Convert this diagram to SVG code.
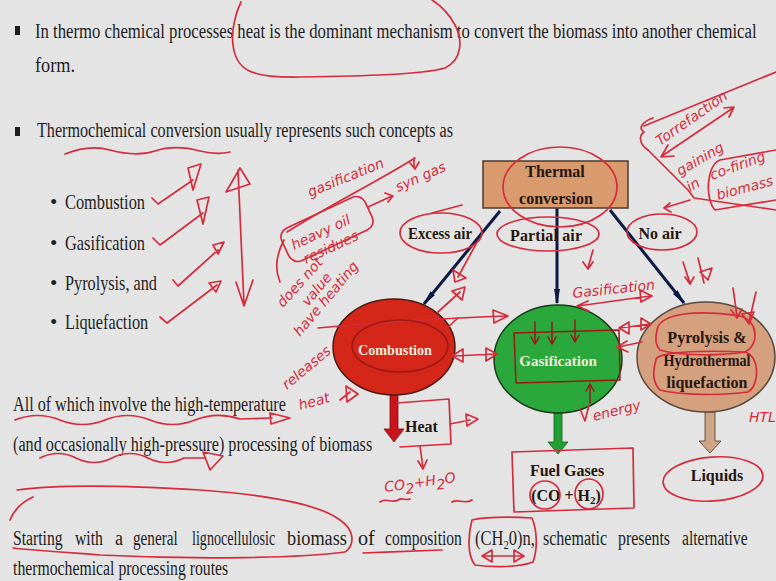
<svg xmlns="http://www.w3.org/2000/svg" width="776" height="581" viewBox="0 0 776 581">
<defs>
<style>
.t{font-family:"Liberation Serif","Times New Roman",serif;fill:#1e1e1e;font-size:20px}
.l{font-size:21px}
.b{font-family:"Liberation Serif","Times New Roman",serif;font-weight:bold;fill:#24160f;font-size:16px;text-anchor:middle}
.w{font-family:"Liberation Serif","Times New Roman",serif;font-weight:bold;fill:#f3ead8;font-size:15px;text-anchor:middle}
.ink{fill:none;stroke:#d42c3c;stroke-width:1.7;stroke-linecap:round;stroke-linejoin:round}
.dk{fill:none;stroke:#9a1a14;stroke-width:1.5;stroke-linecap:round;stroke-linejoin:round}
.hw{font-family:"DejaVu Sans",sans-serif;fill:#d42c3c;font-size:14px;font-style:oblique}
.nav{stroke:#0d1a44;stroke-width:3;fill:none}
</style>
<marker id="ah" markerUnits="userSpaceOnUse" markerWidth="16" markerHeight="8" refX="14" refY="4" orient="auto">
<path d="M0,1 L16,4 L0,7 z" fill="#0d1a44"/>
</marker>
</defs>
<rect width="776" height="581" fill="#e4e4e4"/>

<g id="body-text">
<rect x="15" y="26" width="5" height="9" fill="#1e1e1e"/>
<text class="t" transform="translate(35,38) scale(0.8,1)" textLength="902" lengthAdjust="spacingAndGlyphs">In thermo chemical processes heat is the dominant mechanism to convert the biomass into another chemical</text>
<text class="t" transform="translate(35,72) scale(0.8,1)" textLength="50" lengthAdjust="spacingAndGlyphs">form.</text>
<rect x="15" y="127" width="5" height="9" fill="#1e1e1e"/>
<text class="t" transform="translate(37,137) scale(0.8,1)" textLength="520" lengthAdjust="spacingAndGlyphs">Thermochemical conversion usually represents such concepts as</text>
<text class="t l" x="50" y="209">•</text>
<text class="t l" transform="translate(65,209) scale(0.8,1)" textLength="100" lengthAdjust="spacingAndGlyphs">Combustion</text>
<text class="t l" x="50" y="250">•</text>
<text class="t l" transform="translate(65,250) scale(0.8,1)" textLength="100" lengthAdjust="spacingAndGlyphs">Gasification</text>
<text class="t l" x="50" y="290">•</text>
<text class="t l" transform="translate(65,290) scale(0.8,1)" textLength="115" lengthAdjust="spacingAndGlyphs">Pyrolysis, and</text>
<text class="t l" x="50" y="329">•</text>
<text class="t l" transform="translate(65,329) scale(0.8,1)" textLength="104" lengthAdjust="spacingAndGlyphs">Liquefaction</text>
<text class="t" transform="translate(13,411) scale(0.8,1)" textLength="341" lengthAdjust="spacingAndGlyphs">All of which involve the high-temperature</text>
<text class="t" transform="translate(13,451) scale(0.8,1)" textLength="449" lengthAdjust="spacingAndGlyphs">(and occasionally high-pressure) processing of biomass</text>
<text class="t" transform="translate(13,545) scale(0.8,1)" textLength="62" lengthAdjust="spacingAndGlyphs">Starting</text>
<text class="t" transform="translate(75,545) scale(0.8,1)" textLength="35" lengthAdjust="spacingAndGlyphs">with</text>
<text class="t" transform="translate(115,545) scale(0.8,1)" textLength="10" lengthAdjust="spacingAndGlyphs">a</text>
<text class="t" transform="translate(133,545) scale(0.8,1)" textLength="56" lengthAdjust="spacingAndGlyphs">general</text>
<text class="t" transform="translate(192,545) scale(0.8,1)" textLength="104" lengthAdjust="spacingAndGlyphs">lignocellulosic</text>
<text class="t" transform="translate(287,545) scale(0.8,1)" textLength="75" lengthAdjust="spacingAndGlyphs">biomass</text>
<text class="t" transform="translate(358,545) scale(0.8,1)" textLength="21" lengthAdjust="spacingAndGlyphs">of</text>
<text class="t" transform="translate(385,545) scale(0.8,1)" textLength="96" lengthAdjust="spacingAndGlyphs">composition</text>
<text class="t" transform="translate(475,545) scale(0.8,1)" textLength="75" lengthAdjust="spacingAndGlyphs">(CH<tspan font-size="13" dy="4">2</tspan><tspan dy="-4">0)n,</tspan></text>
<text class="t" transform="translate(543,545) scale(0.8,1)" textLength="80" lengthAdjust="spacingAndGlyphs">schematic</text>
<text class="t" transform="translate(618,545) scale(0.8,1)" textLength="65" lengthAdjust="spacingAndGlyphs">presents</text>
<text class="t" transform="translate(682,545) scale(0.8,1)" textLength="82" lengthAdjust="spacingAndGlyphs">alternative</text>
<text class="t" transform="translate(13,575) scale(0.8,1)" textLength="269" lengthAdjust="spacingAndGlyphs">thermochemical processing routes</text>
</g>

<g id="connectors">
<line x1="500" y1="211" x2="424" y2="304" class="nav" marker-end="url(#ah)"/>
<line x1="557" y1="208" x2="557" y2="303" class="nav" marker-end="url(#ah)"/>
<line x1="610" y1="210" x2="684" y2="303" class="nav" marker-end="url(#ah)"/>
<path d="M390,394 L398,394 L398,429 L404,429 L394,442 L384,429 L390,429 Z" fill="#c8141a" stroke="#7a1010" stroke-width="0.8"/>
<path d="M554,413 L562,413 L562,442 L568,442 L558,454 L548,442 L554,442 Z" fill="#23a034" stroke="#145a1a" stroke-width="0.8"/>
<path d="M705,412 L715,412 L715,441 L721,441 L710,453 L699,441 L705,441 Z" fill="#cba585" stroke="#6a5040" stroke-width="1"/>
</g>

<g id="thermal-conversion">
<rect x="483" y="161" width="145" height="47" fill="#d99a6e" stroke="#4a3a30" stroke-width="1.5"/>
<text class="b" x="555" y="177">Thermal</text>
<text class="b" x="556" y="204">conversion</text>
</g>
<g id="excess-air"><text class="b" x="440" y="239" textLength="64" lengthAdjust="spacingAndGlyphs">Excess air</text></g>
<g id="partial-air"><text class="b" x="510" y="241" style="text-anchor:start" textLength="72" lengthAdjust="spacing">Partial  air</text></g>
<g id="no-air"><text class="b" x="660" y="239">No air</text></g>

<g id="combustion">
<ellipse cx="394" cy="347" rx="61" ry="48" fill="#d5261a" stroke="#4a1a12" stroke-width="1.5"/>
<text class="w" x="395" y="355" textLength="74" lengthAdjust="spacingAndGlyphs">Combustion</text>
</g>
<g id="gasification">
<ellipse cx="558" cy="359" rx="64" ry="54" fill="#2aa83c" stroke="#1a3a1a" stroke-width="1.5"/>
<text class="w" x="558" y="366">Gasification</text>
</g>
<g id="pyrolysis">
<ellipse cx="706" cy="357" rx="69" ry="55" fill="#d4a07e" stroke="#5a4a40" stroke-width="1.5"/>
<text class="b" x="707" y="343" font-size="15">Pyrolysis &amp;</text>
<text class="b" x="707" y="366" font-size="15" textLength="87" lengthAdjust="spacingAndGlyphs">Hydrothermal</text>
<text class="b" x="707" y="388" font-size="15">liquefaction</text>
</g>
<g id="heat"><text class="b" x="405" y="432" style="text-anchor:start">Heat</text></g>
<g id="fuel-gases">
<text class="b" x="567" y="476">Fuel Gases</text>
<text class="b" x="566" y="501">(CO + H<tspan font-size="11" dy="3">2</tspan><tspan dy="-3">)</tspan></text>
</g>
<g id="liquids"><text class="b" x="717" y="481">Liquids</text></g>

<g id="annotations">
<path class="ink" d="M241,2 C236,12 231,30 233,45 C236,70 250,78 300,77 C360,76 420,75 445,68 C462,60 463,40 455,25 C448,12 440,5 432,0"/>
<path class="ink" d="M65,154 C80,148 95,146 110,150 C125,154 140,156 155,151 C170,146 185,147 200,151 C212,154 222,154 230,152"/>
<path class="ink" d="M152,198 L158,204 L193,180 M188,168 L201,164 L193,190 Z"/>
<path class="ink" d="M153,238 L160,245 L203,213 M197,200 L209,197 L203,224 Z"/>
<path class="ink" d="M173,280 L178,286 L218,250 M213,245 L224,242 L218,254 Z"/>
<path class="ink" d="M160,317 L167,323 L217,285 M209,283 L221,281 L216,292 Z"/>
<path class="ink" d="M238,170 L244,305 M226,192 L240,168 L250,184 Z M236,282 L244,306 L253,280"/>

<text class="hw" font-size="17" transform="translate(310,197) rotate(-22)">gasification</text>
<path class="ink" d="M287,232 C330,205 380,180 415,158 M414,158 L414,168 M410,163 L415,169 L419,162"/>
<text class="hw" font-size="14" transform="translate(398,192) rotate(-24)">syn gas</text>
<rect class="ink" x="-46" y="-18" width="92" height="36" rx="10" transform="translate(327,229) rotate(-25)"/>
<text class="hw" font-size="14" transform="translate(294,250) rotate(-25)">heavy oil</text>
<text class="hw" font-size="10" transform="translate(306,264) rotate(-25)">residues</text>
<path class="ink" d="M368,207 L392,196 M385,193 L393,196 L388,202"/>
<path class="ink" d="M284,240 C276,255 274,268 280,282"/>
<text class="hw" font-size="16" transform="translate(283,308) rotate(-48)">does not</text>
<text class="hw" font-size="10" transform="translate(308,307) rotate(-50)">value</text>
<text class="hw" font-size="12" transform="translate(300,337) rotate(-50)">have heating</text>
<path class="ink" d="M318,328 C380,322 450,318 505,316 M493,310 L508,316 L494,323 Z"/>
<path class="ink" d="M438,312 L460,292 M452,291 L465,287 L462,300 Z"/>
<path class="ink" d="M476,244 L458,277 M453,270 L455,282 L466,278 Z"/>
<path class="ink" d="M445,330 L458,318"/>
<path class="ink" d="M453,356 L496,354 M463,349 L452,356 L463,362 Z M486,348 L497,354 L486,361 Z"/>
<ellipse class="dk" cx="400" cy="346" rx="48" ry="26"/>
<text class="hw" font-size="12" transform="translate(287,390) rotate(-40)">releases</text>
<text class="hw" font-size="15" transform="translate(300,410) rotate(-15)">heat</text>
<path class="ink" d="M340,400 L350,392 M346,386 L358,394 L347,402 Z"/>

<path class="ink" d="M397,403 L449,399 L451,444 L400,447"/>
<path class="ink" d="M450,424 L470,420 M466,414 L478,419 L467,426 Z"/>
<path class="ink" d="M420,446 L423,468 M418,461 L423,469 L427,460"/>
<text class="hw" font-size="22" transform="rotate(-8 385 492)" x="385" y="492">CO<tspan font-size="14" dy="5">2</tspan><tspan dy="-5">+H</tspan><tspan font-size="14" dy="5">2</tspan><tspan dy="-5">O</tspan></text>
<path class="ink" d="M380,502 C386,497 392,504 398,500 C402,497 406,501 410,499 M452,502 C458,498 464,505 472,500"/>

<path class="dk" d="M514,333 L619,330 L620,380 L516,383 Z"/>
<path class="dk" d="M535,322 L535,343 M531,337 L535,344 L539,337 M552,322 L552,343 M548,337 L552,344 L556,337 M575,320 L575,341 M571,335 L575,342 L579,335"/>
<path class="dk" d="M590,403 L590,385 M586,391 L590,384 L594,391"/>
<path class="ink" d="M580,409 L585,421 L589,405"/>
<text class="hw" font-size="18" transform="translate(594,421) rotate(-14)">energy</text>

<text class="hw" font-size="16" transform="translate(573,298) rotate(-6)">Gasification</text>
<path class="ink" d="M578,306 L650,296 M640,290 L652,296 L641,302 Z M588,301 L577,306 L589,311"/>
<path class="ink" d="M620,328 L650,324 M629,322 L619,328 L629,334 Z M641,318 L651,324 L641,330 Z"/>
<path class="ink" d="M618,347 L642,342 M627,341 L617,347 L628,352"/>

<path class="ink" d="M657,330 C660,312 700,310 740,316 C758,320 760,345 745,352 C720,356 680,356 660,350 C655,345 655,338 657,330 Z"/>
<path class="ink" d="M656,360 C655,352 700,350 745,352 C760,356 760,385 748,392 C720,396 680,395 660,390 C652,382 653,370 656,360 Z"/>
<path class="ink" d="M733,288 L737,316 M731,310 L737,318 L742,309 M756,292 L749,322 M742,314 L749,324 L754,312 Z"/>
<text class="hw" font-size="15" x="749" y="422">HTL</text>

<path class="ink" d="M512,452 L633,448 L634,508 L514,512 Z"/>
<ellipse class="ink" cx="545" cy="495" rx="15" ry="14"/>
<ellipse class="ink" cx="589" cy="494" rx="14" ry="15"/>
<ellipse class="ink" cx="713" cy="479" rx="50" ry="22" transform="rotate(-4 713 479)"/>

<ellipse class="ink" cx="441" cy="233" rx="41" ry="20"/>
<ellipse class="ink" cx="548" cy="234" rx="51" ry="17"/>
<ellipse class="ink" cx="662" cy="232" rx="35" ry="18"/>
<ellipse class="ink" cx="560" cy="187" rx="57" ry="40"/>
<path class="ink" d="M593,250 L588,268 M583,262 L588,269 L593,262"/>
<path class="ink" d="M432,213 L462,205"/>
<path class="ink" d="M683,262 L690,283 M685,277 L690,284 L694,277 M698,258 L704,283 M700,272 L708,280 L712,268 Z"/>
<path class="ink" d="M690,200 L664,208 M670,203 L664,208 L671,212"/>

<path class="ink" d="M653,118 C642,122 638,128 644,132 C638,136 640,145 648,150"/>
<path class="ink" d="M644,126 L776,72 M648,150 L688,190 L694,198 L776,210"/>
<path class="ink" d="M776,150 L720,160 C706,165 705,200 715,210 L776,200"/>
<text class="hw" font-size="14" transform="translate(660,146) rotate(-35)">Torrefaction</text>
<path class="ink" d="M662,156 L733,108 M668,145 L661,157 L674,156 M724,108 L734,107 L729,117"/>
<text class="hw" font-size="15" transform="translate(680,176) rotate(-30)">gaining</text>
<text class="hw" font-size="14" transform="translate(690,192) rotate(-30)">in</text>
<text class="hw" font-size="14" transform="translate(712,180) rotate(-20)">co-firing</text>
<text class="hw" font-size="14" transform="translate(718,200) rotate(-15)">biomass</text>

<path class="ink" d="M15,420 C30,414 45,414 60,420 C75,426 90,426 105,420 C120,414 135,414 150,420 C165,426 180,426 195,420 C210,414 225,414 240,419 L272,418 M270,413 L290,418 L271,424 Z"/>
<path class="ink" d="M40,458 C52,452 64,452 76,458 C88,464 100,464 112,458 C124,452 136,452 148,458 C160,464 172,464 184,458 L205,458 M203,452 L223,456 L210,470 Z"/>
<path class="ink" d="M17,490 C60,484 120,485 200,490 C270,495 320,505 340,520 C355,530 355,545 345,552 C300,558 200,560 100,555 C60,552 30,550 13,548"/>
<path class="ink" d="M33,497 C22,502 14,510 10,520"/>
<path class="ink" d="M363,553 C390,552 420,551 442,550"/>
<path class="ink" d="M472,520 C468,535 467,555 475,565 C495,568 520,567 533,562 C538,548 537,530 532,518 C515,517 490,516 472,520 Z"/>
<path class="ink" d="M483,556 L523,556 M492,550 L482,556 L492,562 Z M514,550 L524,556 L514,562 Z"/>
</g>
</svg>
